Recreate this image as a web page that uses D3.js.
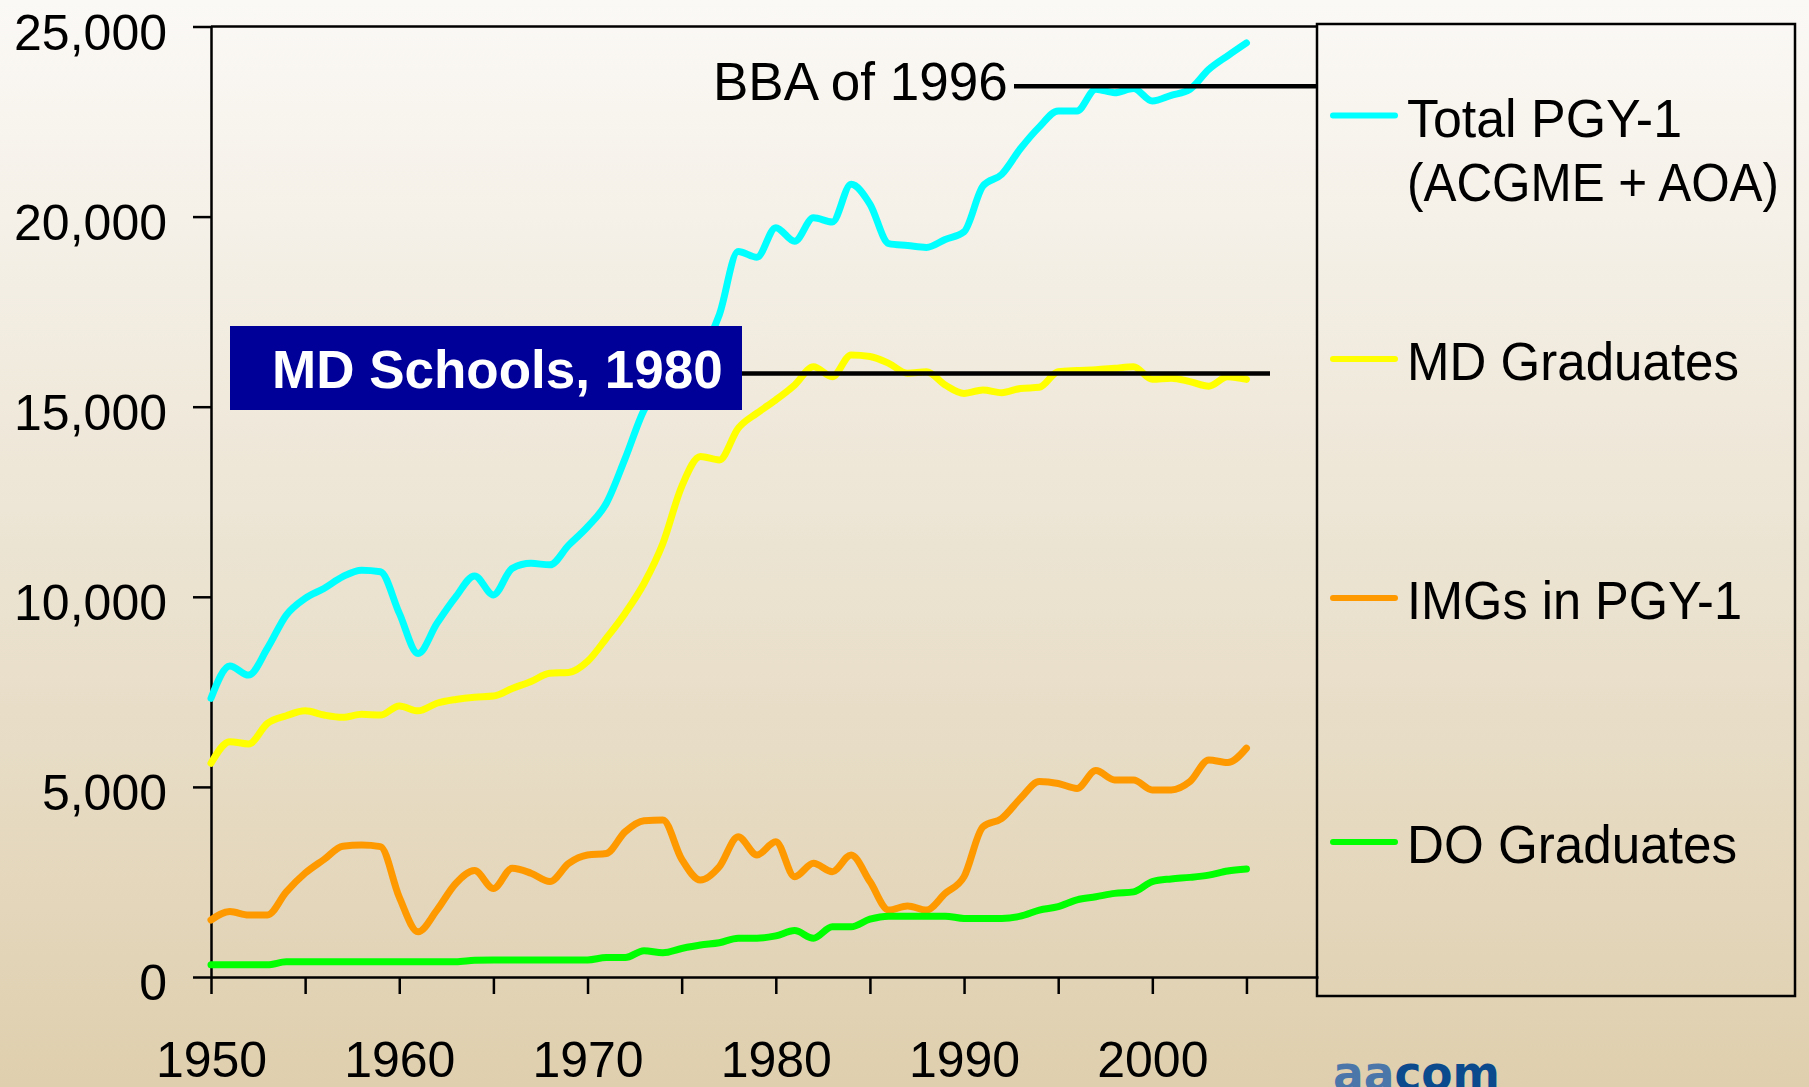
<!DOCTYPE html>
<html>
<head>
<meta charset="utf-8">
<title>PGY-1 positions and graduates, 1950-2005</title>
<script src="https://d3js.org/d3.v7.min.js"></script>
<style>
  html, body { margin: 0; padding: 0; overflow: hidden; }
  svg { display: block; font-family: "Liberation Sans", Arial, sans-serif; }
</style>
</head>
<body>
<svg id="stage" width="1809" height="1087"></svg>
<script>
// values, one per year 1950..2005
var years = d3.range(1950, 2006);
var totalPgy1 = [7330, 8180, 7940, 8650, 9520, 9960, 10220, 10530, 10700, 10660,
    9570, 8510, 9300, 10000, 10550, 10050, 10750, 10880, 10840, 11360,
    11840, 12460, 13640, 14910, 15600, 16000, 16400, 17420, 19080, 18930,
    19710, 19350, 19970, 19860, 20850, 20330, 19290, 19240, 19190, 19400,
    19600, 20800, 21110, 21790, 22360, 22780, 22780, 23350, 23260, 23370,
    23040, 23190, 23350, 23870, 24230, 24570];
var mdGraduates = [5620, 6190, 6130, 6670, 6870, 7000, 6890, 6830, 6910, 6890,
    7130, 7000, 7200, 7300, 7360, 7390, 7590, 7770, 7990, 8010,
    8300, 8910, 9570, 10350, 11400, 12900, 13690, 13600, 14430, 14830,
    15180, 15570, 16050, 15790, 16360, 16320, 16140, 15880, 15920, 15570,
    15350, 15440, 15370, 15480, 15510, 15920, 15950, 15970, 16010, 16050,
    15720, 15750, 15660, 15540, 15790, 15720];
var imgsPgy1 = [1500, 1720, 1630, 1630, 2240, 2730, 3090, 3440, 3470, 3430,
    2100, 1190, 1760, 2460, 2800, 2330, 2860, 2730, 2510, 2990,
    3210, 3250, 3820, 4110, 4130, 3100, 2550, 2900, 3690, 3210,
    3560, 2640, 2990, 2770, 3210, 2510, 1760, 1870, 1760, 2200,
    2640, 3950, 4170, 4700, 5140, 5090, 4960, 5430, 5180, 5180,
    4920, 4920, 5140, 5710, 5640, 6020];
var doGraduates = [320, 320, 320, 320, 400, 400, 400, 400, 400, 400,
    400, 400, 400, 400, 440, 450, 450, 450, 450, 450,
    450, 510, 510, 690, 640, 750, 840, 900, 1020, 1020,
    1080, 1220, 1020, 1320, 1320, 1520, 1600, 1600, 1600, 1600,
    1540, 1540, 1540, 1600, 1760, 1850, 2030, 2110, 2200, 2240,
    2510, 2580, 2620, 2680, 2790, 2840];

var seriesNames = [["Total PGY-1", "(ACGME + AOA)"], ["MD Graduates"], ["IMGs in PGY-1"], ["DO Graduates"]];
var seriesColors = ["#00ffff", "#ffff00", "#ff9900", "#00ff00"];
var yTicks = [0, 5000, 10000, 15000, 20000, 25000];
var xTicks = d3.range(1950, 2006, 5);
var xLabels = [1950, 1960, 1970, 1980, 1990, 2000];

// reference levels of the two annotations
var bbaLabel = "BBA of 1996";
var bbaValue = 23430;
var mdSchoolsLabel = "MD Schools, 1980";
var mdSchoolsValue = 15870;

var W = 1809, H = 1087;
var plot = { left: 211, right: 1318, top: 26.5, bottom: 977 };

var svg = d3.select("#stage");

// slide background
var grad = svg.append("defs").append("linearGradient")
    .attr("id", "bg").attr("x1", 0).attr("y1", 0).attr("x2", 0).attr("y2", 1);
grad.append("stop").attr("offset", "0%").attr("stop-color", "#fbf9f6");
grad.append("stop").attr("offset", "50%").attr("stop-color", "#ece4d3");
grad.append("stop").attr("offset", "100%").attr("stop-color", "#dfcfae");
svg.append("rect").attr("width", W).attr("height", H).attr("fill", "url(#bg)");

var x = d3.scaleLinear().domain([1950, 2008.8]).range([plot.left, plot.right]);
var y = d3.scaleLinear().domain([0, 25000]).range([plot.bottom, plot.top]);

// top edge of plot area
svg.append("line")
    .attr("x1", plot.left).attr("x2", plot.right)
    .attr("y1", y(25000)).attr("y2", y(25000))
    .attr("stroke", "#000").attr("stroke-width", 2.5);

var yAxis = d3.axisLeft(y)
    .tickValues(yTicks)
    .tickSize(18)
    .tickSizeOuter(0)
    .tickPadding(26)
    .tickFormat(d3.format(","));
var gy = svg.append("g")
    .attr("transform", "translate(" + plot.left + ",0)")
    .call(yAxis);

var xAxis = d3.axisBottom(x)
    .tickValues(xTicks)
    .tickSize(17)
    .tickSizeOuter(0)
    .tickPadding(47)
    .tickFormat(function (d) {
        return xLabels.indexOf(d) >= 0 ? String(d) : "";
    });
var gx = svg.append("g")
    .attr("transform", "translate(0," + plot.bottom + ")")
    .call(xAxis);

[gx, gy].forEach(function (g) {
    g.selectAll("path, line").attr("stroke", "#000").attr("stroke-width", 2.5);
    g.selectAll("text")
        .attr("fill", "#000")
        .style("font-family", "'Liberation Sans', Arial, sans-serif")
        .style("font-size", "50px");
});
gy.selectAll("text").attr("dy", "0.45em");

// data lines
var seriesValues = [totalPgy1, mdGraduates, imgsPgy1, doGraduates];
var line = d3.line()
    .curve(d3.curveMonotoneX)
    .x(function (d) { return x(d.year); })
    .y(function (d) { return y(d.value); });

seriesValues.forEach(function (values, i) {
    var pts = years.map(function (yr, j) { return { year: yr, value: values[j] }; });
    svg.append("path")
        .datum(pts)
        .attr("d", line)
        .attr("fill", "none")
        .attr("stroke", seriesColors[i])
        .attr("stroke-width", 7)
        .attr("stroke-linejoin", "round")
        .attr("stroke-linecap", "round");
});

// BBA annotation
svg.append("line")
    .attr("x1", 1014).attr("x2", plot.right)
    .attr("y1", y(bbaValue)).attr("y2", y(bbaValue))
    .attr("stroke", "#000").attr("stroke-width", 4.5);
svg.append("text")
    .attr("x", 713).attr("y", 100)
    .attr("font-size", 53)
    .attr("fill", "#000")
    .text(bbaLabel);

// MD schools annotation
svg.append("line")
    .attr("x1", 742).attr("x2", 1270)
    .attr("y1", y(mdSchoolsValue)).attr("y2", y(mdSchoolsValue))
    .attr("stroke", "#000").attr("stroke-width", 4.5);
svg.append("rect")
    .attr("x", 230).attr("y", 326)
    .attr("width", 512).attr("height", 84)
    .attr("fill", "#000099");
svg.append("text")
    .attr("x", 272).attr("y", 388)
    .attr("font-size", 53)
    .attr("font-weight", "bold")
    .attr("fill", "#fff")
    .text(mdSchoolsLabel);

// legend
var legend = { x: 1317, y: 24, w: 478, h: 972 };
svg.append("rect")
    .attr("x", legend.x).attr("y", legend.y)
    .attr("width", legend.w).attr("height", legend.h)
    .attr("fill", "none")
    .attr("stroke", "#000").attr("stroke-width", 2.5);

var legendBase = [136.6, 380, 619, 863];
var legendWidths = [[275, 372], [332], [335], [330]];
seriesNames.forEach(function (lines, i) {
    var base = legendBase[i];
    svg.append("line")
        .attr("x1", 1333).attr("x2", 1395)
        .attr("y1", base - 21).attr("y2", base - 21)
        .attr("stroke", seriesColors[i])
        .attr("stroke-width", 6)
        .attr("stroke-linecap", "round");
    lines.forEach(function (txt, k) {
        svg.append("text")
            .attr("x", 1407).attr("y", base + k * 64.4)
            .attr("font-size", 53)
            .attr("fill", "#000")
            .attr("textLength", legendWidths[i][k])
            .attr("lengthAdjust", "spacingAndGlyphs")
            .text(txt);
    });
});

// logo, cut off by the bottom edge as on the slide
var logo = svg.append("text")
    .attr("x", 1333).attr("y", 1090)
    .attr("font-size", 48)
    .attr("font-weight", "bold")
    .attr("textLength", 167)
    .attr("lengthAdjust", "spacingAndGlyphs")
    .style("font-family", "'DejaVu Sans', sans-serif");
logo.append("tspan").attr("fill", "#4a76a9").text("aa");
logo.append("tspan").attr("fill", "#0b4a8c").text("com");
</script>
</body>
</html>
